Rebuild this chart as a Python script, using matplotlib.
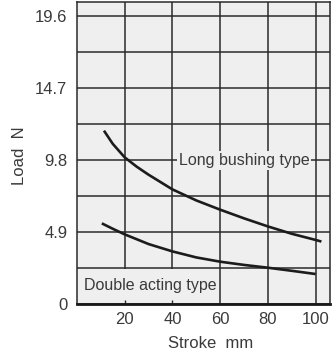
import matplotlib
matplotlib.use('Agg')
import matplotlib.pyplot as plt
from matplotlib.ticker import FixedLocator, MultipleLocator
from matplotlib.patches import Rectangle

plt.rcParams['font.family'] = ['Liberation Sans', 'DejaVu Sans']

# Data
long_x = [11.3, 15, 20, 25, 30, 40, 50, 60, 70, 80, 90, 100, 102.4]
long_y = [11.8, 10.9, 9.98, 9.35, 8.8, 7.8, 7.05, 6.42, 5.83, 5.28, 4.78, 4.36, 4.25]
double_x = [10.4, 15, 20, 30, 40, 50, 60, 70, 80, 90, 100]
double_y = [5.49, 5.12, 4.74, 4.08, 3.58, 3.17, 2.88, 2.66, 2.47, 2.26, 2.04]

x_ticks = [20, 40, 60, 80, 100]
y_ticks = [0, 4.9, 9.8, 14.7, 19.6]
y_tick_labels = ['0', '4.9', '9.8', '14.7', '19.6']

long_label = 'Long bushing type'
double_label = 'Double acting type'

bg = '#efefef'
ink = '#1c1c1c'
txt = '#3a3a3a'

fig = plt.figure(figsize=(3.32, 3.56), dpi=100)
ax = fig.add_axes([77 / 332, 1 - 304 / 356, (330 - 77) / 332, (304 - 2) / 356])
ax.set_facecolor(bg)
ax.set_xlim(0, 106)
ax.set_ylim(0, 20.56)

ax.xaxis.set_major_locator(FixedLocator(x_ticks))
ax.yaxis.set_major_locator(FixedLocator(y_ticks))
ax.yaxis.set_minor_locator(MultipleLocator(2.45))
ax.set_yticklabels(y_tick_labels)
ax.set_axisbelow(True)
ax.grid(True, which='major', color='#2a2a2a', linewidth=1.1)
ax.grid(True, which='minor', axis='y', color='#2a2a2a', linewidth=1.1)
ax.tick_params(axis='both', which='both', length=0, labelsize=12, labelcolor=txt)
ax.tick_params(axis='y', pad=7)
ax.tick_params(axis='x', pad=6)

for s in ['left', 'right', 'top']:
    ax.spines[s].set_color('#2a2a2a')
    ax.spines[s].set_linewidth(1.1)
ax.spines['bottom'].set_color('#1a1a1a')
ax.spines['bottom'].set_linewidth(2.0)

ax.plot(long_x, long_y, color=ink, linewidth=1.9, solid_capstyle='butt', zorder=2)
ax.plot(double_x, double_y, color=ink, linewidth=1.9, solid_capstyle='butt', zorder=2)

# label boxes
ax.add_patch(Rectangle((0.3, 0.05), 59.3, 2.33, facecolor=bg, edgecolor='none', zorder=1))
ax.vlines([t for t in x_ticks if t < 60], 0, 0.3, color='#2a2a2a', linewidth=1.0, zorder=1.5)
ax.text(30.7, 0.95, double_label, ha='center', va='baseline', fontsize=11.5,
        color=txt, zorder=3)
ax.text(70.0, 9.46, long_label, ha='center', va='baseline', fontsize=11.5, color=txt,
        zorder=3, bbox=dict(boxstyle='square,pad=0.12', facecolor=bg, edgecolor='none'))

ax.set_xlabel('Stroke  mm', fontsize=12, color=txt, labelpad=4)
ax.xaxis.set_label_coords((211 - 77) / (330 - 77), -0.105)
ax.set_ylabel('Load  N', fontsize=12, color=txt)
ax.yaxis.set_label_coords(-(77 - 27) / (330 - 77), (304 - 156) / 302)

fig.savefig('out.png', dpi=100, facecolor='white')
